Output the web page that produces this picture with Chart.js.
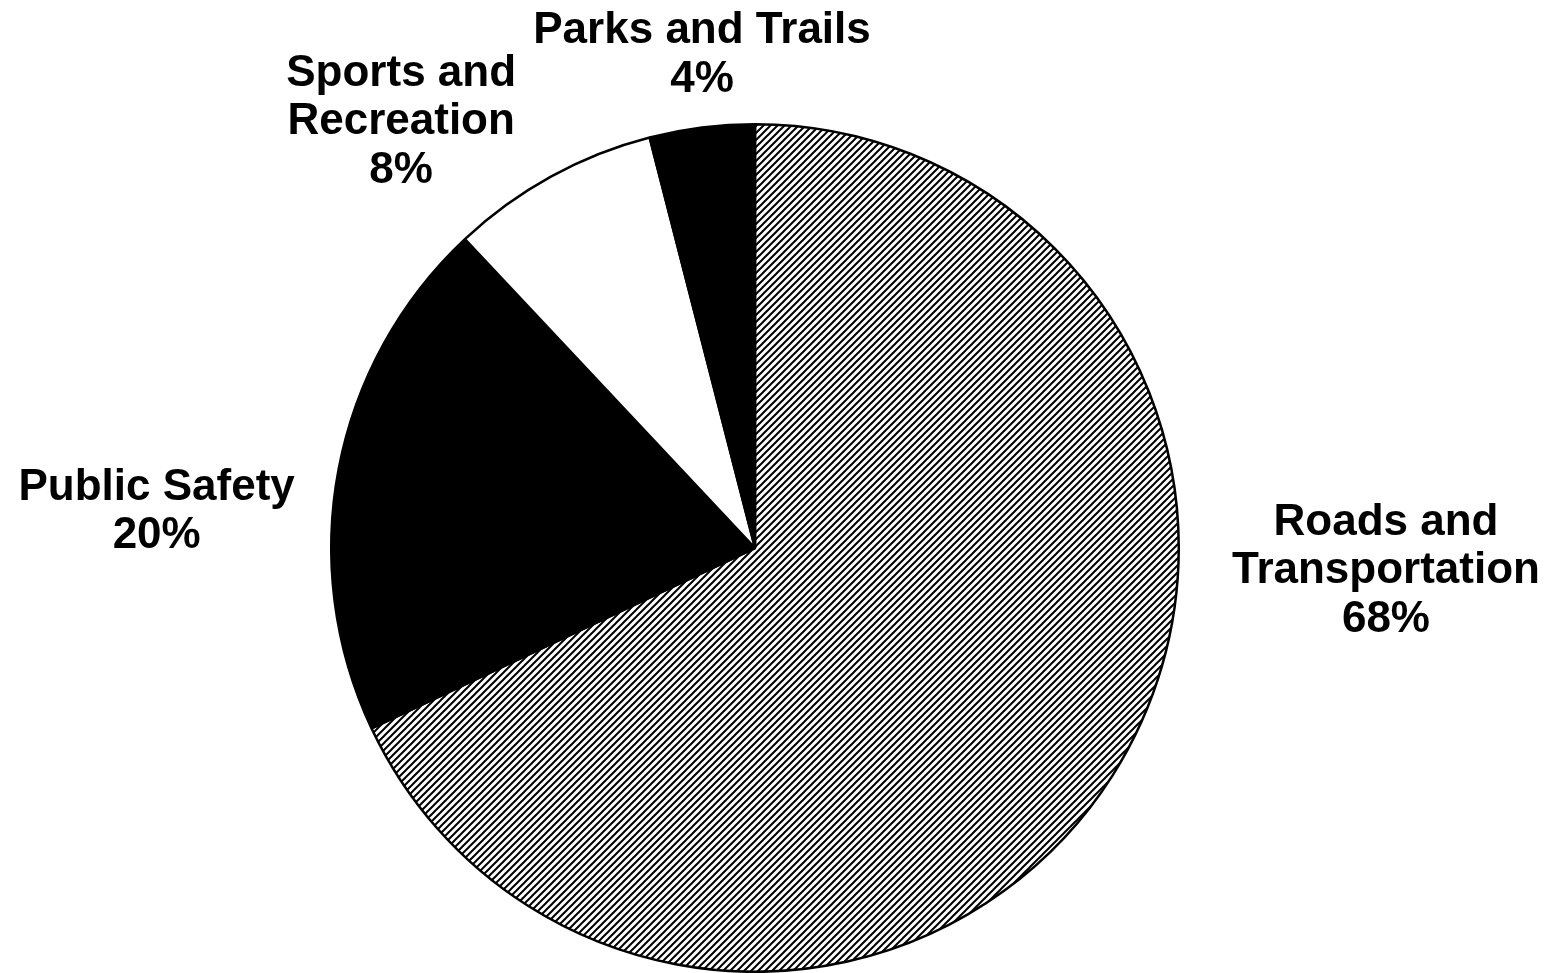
<!DOCTYPE html>
<html>
<head>
<meta charset="utf-8">
<script src="https://cdn.jsdelivr.net/npm/chart.js@4/dist/chart.umd.min.js"></script>
<style>
  html, body { margin: 0; padding: 0; background: #fff; }
  #wrap { width: 1557px; height: 973px; }
</style>
</head>
<body>
<div id="wrap"><canvas id="pieChart" width="1557" height="973"></canvas></div>
<script>
// data
const categories = ["Roads and Transportation", "Public Safety", "Sports and Recreation", "Parks and Trails"];
const shares = [68, 20, 8, 4];
const labelLines = [
  ["Roads and", "Transportation", "68%"],
  ["Public Safety", "20%"],
  ["Sports and", "Recreation", "8%"],
  ["Parks and Trails", "4%"]
];

// label block centres, in units of the pie radius from its centre
const labelAnchors = [
  [1.489, 0.054],
  [-1.412, -0.085],
  [-0.835, -1.005],
  [-0.125, -1.162]
];

// diagonal hatch for the big slice
function makeHatch() {
  const s = 7;
  const c = document.createElement("canvas");
  c.width = s; c.height = s;
  const g = c.getContext("2d");
  g.fillStyle = "#fff";
  g.fillRect(0, 0, s, s);
  g.strokeStyle = "#000";
  g.lineWidth = 2;
  g.beginPath();
  g.moveTo(-1, s + 1); g.lineTo(s + 1, -1);
  g.moveTo(-1, 1); g.lineTo(1, -1);
  g.moveTo(s - 1, s + 1); g.lineTo(s + 1, s - 1);
  g.stroke();
  return g.createPattern(c, "repeat");
}

const ctx = document.getElementById("pieChart").getContext("2d");

const labelPlugin = {
  id: "sliceLabels",
  afterDraw(chart) {
    const arc = chart.getDatasetMeta(0).data[0];
    const cx = arc.x, cy = arc.y, r = arc.outerRadius;
    const c = chart.ctx;
    const lh = 48.5;
    c.save();
    c.fillStyle = "#000";
    c.font = "bold 44px 'Liberation Sans', Arial, sans-serif";
    c.textAlign = "center";
    c.textBaseline = "middle";
    labelLines.forEach((lines, i) => {
      const x = cx + labelAnchors[i][0] * r;
      const y0 = cy + labelAnchors[i][1] * r - (lines.length - 1) * lh / 2;
      lines.forEach((t, j) => c.fillText(t, x, y0 + j * lh));
    });
    c.restore();
  }
};

new Chart(ctx, {
  type: "pie",
  data: {
    labels: categories,
    datasets: [{
      data: shares,
      backgroundColor: [makeHatch(), "#000", "#fff", "#000"],
      borderColor: "#000",
      borderWidth: 2.5
    }]
  },
  options: {
    responsive: false,
    animation: false,
    layout: { padding: { top: 123, bottom: 0, left: 0, right: 47 } },
    plugins: {
      legend: { display: false },
      tooltip: { enabled: false }
    }
  },
  plugins: [labelPlugin]
});
</script>
</body>
</html>
